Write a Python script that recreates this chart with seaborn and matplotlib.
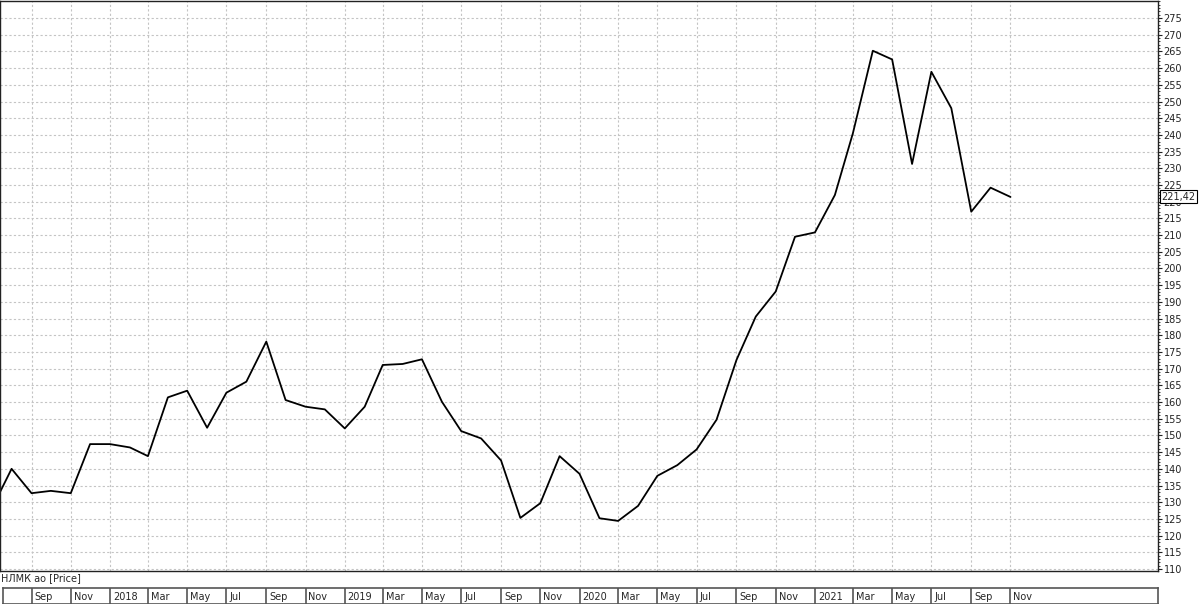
import numpy as np
import pandas as pd
import seaborn as sns
import matplotlib.pyplot as plt
import matplotlib.dates as mdates
from matplotlib.ticker import MultipleLocator

# monthly closes, Jul 2017 .. Nov 2021
months = pd.date_range("2017-07-01", "2021-11-01", freq="MS")
prices = [128.0, 140.0, 132.7, 133.4, 132.7, 147.4,
          147.4, 146.4, 143.8, 161.4, 163.4, 152.3, 162.8, 166.1, 178.1, 160.6, 158.6, 157.8,
          152.1, 158.6, 171.1, 171.4, 172.8, 160.1, 151.3, 149.1, 142.5, 125.3, 129.7, 143.8,
          138.5, 125.2, 124.4, 128.9, 137.9, 141.1, 145.8, 154.7, 172.6, 185.6, 193.1, 209.5,
          210.8, 222.0, 240.5, 265.2, 262.6, 231.3, 258.9, 248.0, 217.0, 224.2, 221.42]
last_price = "221,42"

strip_starts = pd.date_range("2017-09-01", "2021-11-01", freq="2MS")
strip_labels = ["Sep", "Nov", "2018", "Mar", "May", "Jul", "Sep", "Nov",
                "2019", "Mar", "May", "Jul", "Sep", "Nov",
                "2020", "Mar", "May", "Jul", "Sep", "Nov",
                "2021", "Mar", "May", "Jul", "Sep", "Nov"]
y_ticks = np.arange(110, 276, 5)

df = pd.DataFrame({"date": months, "price": prices})

sns.set_style("white")
plt.rcParams["font.family"] = ["DejaVu Sans"]
plt.rcParams["font.size"] = 7

W, H = 1200, 604
px_per_day = 0.6432
jan18 = mdates.date2num(pd.Timestamp("2018-01-01"))


def px_to_num(px):
    return jan18 + (px - 110) / px_per_day


fig = plt.figure(figsize=(12, 6.04), dpi=100)
ax = fig.add_axes([0, 33 / H, 1158 / W, 570 / H])

sns.lineplot(data=df, x="date", y="price", ax=ax, color="black", linewidth=1.3)

ax.set_xlim(px_to_num(0), px_to_num(1158))
ax.set_ylim(109.4, 280.1)
ax.set_xticks(strip_starts)
ax.set_xticklabels([])
ax.tick_params(axis="x", length=0)
ax.set_yticks(y_ticks)
ax.yaxis.set_minor_locator(MultipleLocator(1))
ax.yaxis.tick_right()
ax.tick_params(axis="y", which="major", length=3, pad=1, labelsize=7, colors="#222222")
ax.tick_params(axis="y", which="minor", length=1.5, right=True, left=False, colors="#222222")
ax.set_xlabel("")
ax.set_ylabel("")
ax.grid(True, color="#c4c4c4", linestyle=(0, (2, 2)), linewidth=0.8)
for s in ax.spines.values():
    s.set_color("#222222")
    s.set_linewidth(1)

ax.text(1.003, 221.42, last_price, transform=ax.get_yaxis_transform(),
        ha="left", va="center", fontsize=7,
        bbox=dict(boxstyle="square,pad=0.15", facecolor="white", edgecolor="black", linewidth=0.8))

fig.text(1 / W, (H - 578) / H, "НЛМК ао [Price]", ha="left", va="center", fontsize=7)

strip = fig.add_axes([3 / W, 0, 1155 / W, 16 / H])
strip.set_xlim(px_to_num(3), px_to_num(1158))
strip.set_ylim(0, 1)
strip.set_xticks([])
strip.set_yticks([])
for s in strip.spines.values():
    s.set_color("#555555")
    s.set_linewidth(1.2)
for d, lab in zip(strip_starts, strip_labels):
    x = mdates.date2num(d)
    strip.axvline(x, color="#555555", linewidth=1.2)
    strip.text(x + 4.5, 0.45, lab, ha="left", va="center", fontsize=7)

fig.savefig("out.png", dpi=100)
